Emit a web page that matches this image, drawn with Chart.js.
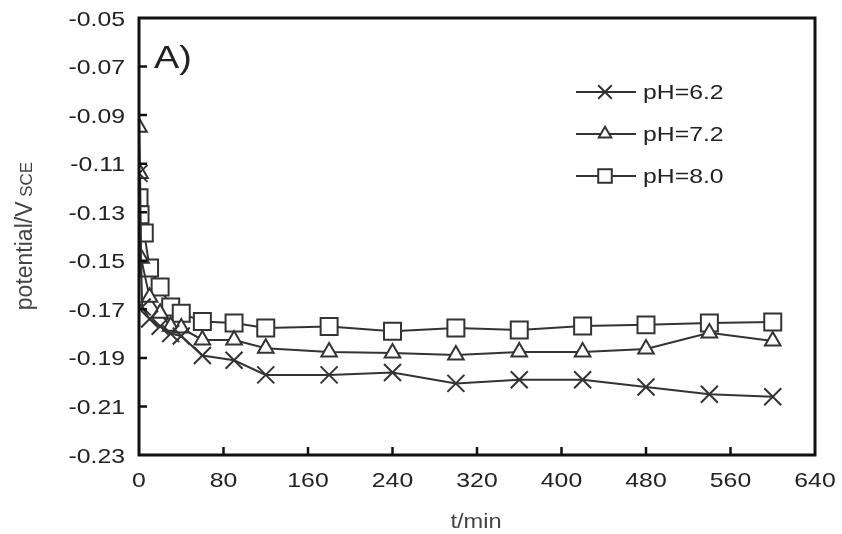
<!DOCTYPE html>
<html>
<head>
<meta charset="utf-8">
<script src="https://cdn.jsdelivr.net/npm/chart.js@4/dist/chart.umd.min.js"></script>
<style>
  html, body { margin: 0; padding: 0; background: #fff; }
  #wrap { width: 842px; height: 534px; position: relative; }
</style>
</head>
<body>
<div id="wrap"><canvas id="c" width="842" height="534"></canvas></div>
<script>
// values (t in min, potential in V vs SCE)
var t62 = [0, 3, 10, 20, 30, 40, 60, 90, 120, 180, 240, 300, 360, 420, 480, 540, 600];
var v62 = [-0.114, -0.169, -0.174, -0.177, -0.180, -0.181, -0.189, -0.191, -0.197, -0.197, -0.196, -0.2005, -0.199, -0.199, -0.202, -0.205, -0.206];

var t72 = [0, 1, 2, 10, 20, 30, 40, 60, 90, 120, 180, 240, 300, 360, 420, 480, 540, 600];
var v72 = [-0.095, -0.114, -0.149, -0.165, -0.1716, -0.177, -0.1777, -0.1826, -0.1826, -0.186, -0.1876, -0.188, -0.1888, -0.1876, -0.1876, -0.1863, -0.1797, -0.183];

var t80 = [0, 1, 5, 10, 20, 30, 40, 60, 90, 120, 180, 240, 300, 360, 420, 480, 540, 600];
var v80 = [-0.124, -0.131, -0.1386, -0.153, -0.1608, -0.169, -0.1716, -0.175, -0.1756, -0.1777, -0.1771, -0.179, -0.1777, -0.1785, -0.1769, -0.1764, -0.1756, -0.1752];

var labels = ['pH=6.2', 'pH=7.2', 'pH=8.0'];
var yTicks = [-0.23, -0.21, -0.19, -0.17, -0.15, -0.13, -0.11, -0.09, -0.07, -0.05];
var xTicks = [0, 80, 160, 240, 320, 400, 480, 560, 640];

var INK = '#333';
var FONT = '"Liberation Sans", Arial, sans-serif';
var SX = 1.18; // the original figure's lettering is a bit wide

function pts(t, v) { return t.map(function (x, i) { return { x: x, y: v[i] }; }); }

function ds(label, t, v, style, r) {
  return {
    label: label, data: pts(t, v),
    borderColor: INK, borderWidth: 2,
    pointStyle: style, pointRadius: r, pointBorderWidth: 2,
    pointBorderColor: INK, pointBackgroundColor: '#fff',
    tension: 0, fill: false
  };
}

function txt(ctx, s, x, y, size, align) {
  ctx.save();
  ctx.translate(x, y);
  ctx.scale(SX, 1);
  ctx.font = size + 'px ' + FONT;
  ctx.textAlign = align || 'left';
  ctx.textBaseline = 'alphabetic';
  ctx.fillText(s, 0, 0);
  ctx.restore();
}

// frame, inward ticks, tick labels, axis titles, "A)" and the legend
var decor = {
  id: 'decor',
  afterDatasetsDraw: function (c) {
    var ctx = c.ctx, a = c.chartArea, xs = c.scales.x, ys = c.scales.y;
    ctx.save();
    ctx.strokeStyle = '#111'; ctx.lineWidth = 3;
    ctx.strokeRect(a.left, a.top, a.right - a.left, a.bottom - a.top);
    ctx.lineWidth = 2.5;
    ctx.beginPath();
    yTicks.forEach(function (v, i) {
      if (i === 0 || i === yTicks.length - 1) return;
      var y = ys.getPixelForValue(v);
      ctx.moveTo(a.left, y); ctx.lineTo(a.left + 8, y);
    });
    xTicks.forEach(function (v, i) {
      if (i === 0 || i === xTicks.length - 1) return;
      var x = xs.getPixelForValue(v);
      ctx.moveTo(x, a.bottom); ctx.lineTo(x, a.bottom - 8);
    });
    ctx.stroke();

    ctx.fillStyle = '#222';
    yTicks.forEach(function (v) {
      txt(ctx, v.toFixed(2), 125, ys.getPixelForValue(v) + 7.5, 21, 'right');
    });
    xTicks.forEach(function (v) {
      txt(ctx, String(v), xs.getPixelForValue(v), 487, 21, 'center');
    });

    // y title: potential/V with smaller SCE
    ctx.fillStyle = '#444';
    ctx.save();
    ctx.translate(32, 236);
    ctx.rotate(-Math.PI / 2);
    ctx.textBaseline = 'alphabetic';
    ctx.textAlign = 'left';
    var main = 'potential/V', sub = ' SCE';
    ctx.font = '23px ' + FONT;
    var w1 = ctx.measureText(main).width;
    ctx.font = '17px ' + FONT;
    var w2 = ctx.measureText(sub).width;
    var x0 = -(w1 + w2) / 2;
    ctx.font = '23px ' + FONT;
    ctx.fillText(main, x0, 0);
    ctx.font = '17px ' + FONT;
    ctx.fillText(sub, x0 + w1, 0);
    ctx.restore();

    // x title
    txt(ctx, 't/min', 476, 528, 20, 'center');

    // panel label
    ctx.fillStyle = '#222';
    txt(ctx, 'A)', 154, 68, 32, 'left');

    // legend
    var rows = [92, 134, 176];
    c.data.datasets.forEach(function (d, i) {
      var y = rows[i];
      ctx.strokeStyle = INK; ctx.lineWidth = 2;
      ctx.beginPath(); ctx.moveTo(576, y); ctx.lineTo(636, y); ctx.stroke();
      ctx.fillStyle = '#fff';
      Chart.helpers.drawPoint(ctx, {
        pointStyle: d.pointStyle, radius: d.pointRadius * 0.8, borderWidth: 2
      }, 605, y);
      ctx.fillStyle = '#222';
      txt(ctx, d.label, 643, y + 7, 21, 'left');
    });
    ctx.restore();
  }
};

new Chart(document.getElementById('c').getContext('2d'), {
  type: 'line',
  data: {
    datasets: [
      ds(labels[0], t62, v62, 'crossRot', 12),
      ds(labels[1], t72, v72, 'triangle', 9),
      ds(labels[2], t80, v80, 'rect', 12)
    ]
  },
  plugins: [decor],
  options: {
    responsive: false, animation: false,
    layout: { padding: { top: 18, right: 27, left: 0, bottom: 0 } },
    plugins: { legend: { display: false }, tooltip: { enabled: false } },
    scales: {
      x: {
        type: 'linear', min: 0, max: 640,
        afterBuildTicks: function (s) { s.ticks = xTicks.map(function (v) { return { value: v }; }); },
        afterFit: function (s) { s.height = 79; },
        grid: { display: false, drawTicks: false },
        border: { display: false },
        ticks: { display: false }
      },
      y: {
        type: 'linear', min: -0.23, max: -0.05,
        afterBuildTicks: function (s) { s.ticks = yTicks.map(function (v) { return { value: v }; }); },
        afterFit: function (s) { s.width = 139; },
        grid: { display: false, drawTicks: false },
        border: { display: false },
        ticks: { display: false }
      }
    }
  }
});
</script>
</body>
</html>
